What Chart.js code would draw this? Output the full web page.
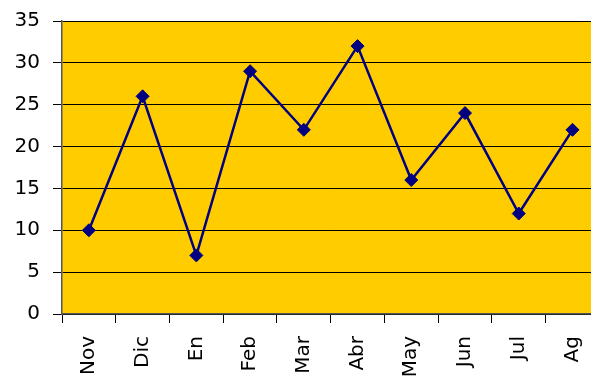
<!DOCTYPE html>
<html>
<head>
<meta charset="utf-8">
<script src="https://cdn.jsdelivr.net/npm/chart.js@4"></script>
<style>
  html, body { margin: 0; padding: 0; background: #fff; overflow: hidden; }
  .wrap { width: 591px; height: 376px; overflow: hidden; position: relative; }
  .wrap canvas { position: absolute; left: 0; top: -4px; }
</style>
</head>
<body>
<div class="wrap">
  <canvas id="myChart" width="610" height="410"></canvas>
</div>
<script>
const months = ['Nov', 'Dic', 'En', 'Feb', 'Mar', 'Abr', 'May', 'Jun', 'Jul', 'Ag'];
const values = [10, 26, 7, 29, 22, 32, 16, 24, 12, 22];
const yMin = 0;
const yMax = 35;
const yStep = 5;

// yellow plot area
const plotBackground = {
    id: 'plotBackground',
    beforeDraw(chart) {
        const { ctx, chartArea } = chart;
        ctx.save();
        ctx.fillStyle = '#FFCC00';
        ctx.fillRect(chartArea.left, chartArea.top, chartArea.right - chartArea.left, chartArea.bottom - chartArea.top);
        ctx.restore();
    }
};

new Chart(document.getElementById('myChart'), {
    type: 'line',
    data: {
        labels: months,
        datasets: [{
            data: values,
            borderColor: '#000080',
            backgroundColor: '#000080',
            borderWidth: 2.5,
            pointStyle: 'rectRot',
            pointRadius: 6.5,
            pointBorderWidth: 1,
            pointBackgroundColor: '#000080',
            pointBorderColor: '#000080',
            tension: 0
        }]
    },
    options: {
        responsive: false,
        animation: false,
        layout: { padding: { top: 10, right: 10, left: 0, bottom: 0 } },
        plugins: {
            legend: { display: false },
            tooltip: { enabled: false }
        },
        scales: {
            x: {
                offset: true,
                grid: {
                    offset: true,
                    drawOnChartArea: false,
                    color: '#000',
                    tickLength: 9
                },
                border: { color: '#555', width: 1.5 },
                ticks: {
                    minRotation: 90,
                    maxRotation: 90,
                    padding: 13,
                    color: '#000',
                    font: { family: 'DejaVu Sans', size: 20 }
                },
                afterFit(scale) { scale.height = 92; }
            },
            y: {
                min: yMin,
                max: yMax,
                ticks: {
                    stepSize: yStep,
                    padding: 13,
                    color: '#000',
                    font: { family: 'DejaVu Sans', size: 20 }
                },
                grid: {
                    color: '#000',
                    lineWidth: 1,
                    tickLength: 9
                },
                border: { color: '#555', width: 1.5 },
                afterFit(scale) { scale.width = 62; }
            }
        }
    },
    plugins: [plotBackground]
});
</script>
</body>
</html>
